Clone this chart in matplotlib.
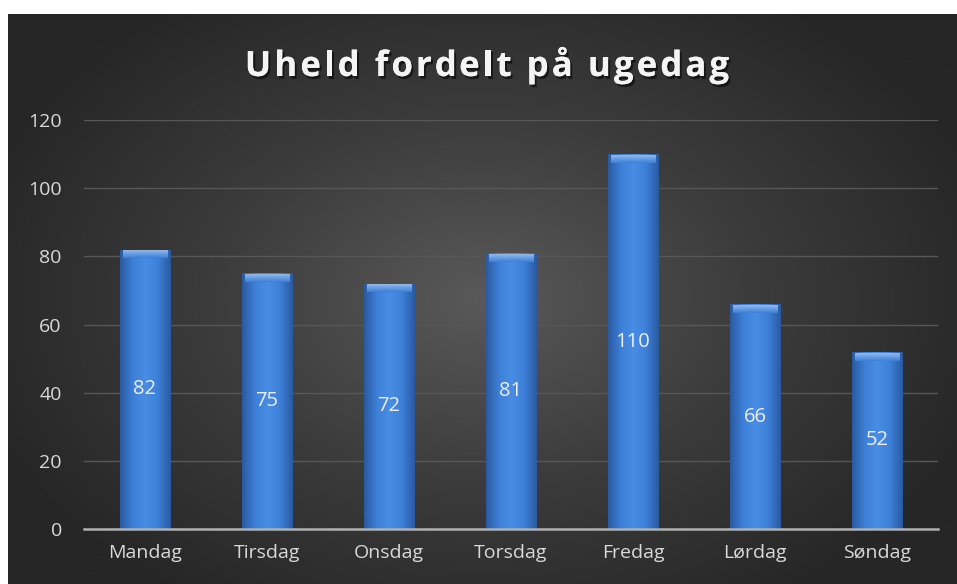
import numpy as np
import matplotlib
matplotlib.use('Agg')
import matplotlib.pyplot as plt
import matplotlib.patheffects as pe
from matplotlib.colors import LinearSegmentedColormap

days = ['Mandag', 'Tirsdag', 'Onsdag', 'Torsdag', 'Fredag', 'Lørdag', 'Søndag']
accidents = [82, 75, 72, 81, 110, 66, 52]
yticks = [0, 20, 40, 60, 80, 100, 120]
title = 'Uheld fordelt på ugedag'

plt.rcParams['font.family'] = ['Open Sans', 'DejaVu Sans']

W, H = 957, 584
fig = plt.figure(figsize=(W / 100, H / 100), dpi=100)
fig.patch.set_facecolor('white')

# radial dark background
bg = fig.add_axes([8 / W, 0, (W - 8) / W, (H - 14) / H])
bg.set_axis_off()
gx, gy = np.meshgrid(np.linspace(0, 1, 400), np.linspace(0, 1, 250))
r = np.sqrt(((gx - 0.5) / 0.75) ** 2 + ((gy - 0.5) / 0.85) ** 2)
bgcmap = LinearSegmentedColormap.from_list('bg', ['#595959', '#3c3c3c', '#262626'])
bg.imshow(r, cmap=bgcmap, vmin=0, vmax=0.75, aspect='auto', extent=[0, 1, 0, 1])
bg.set_xlim(0, 1)
bg.set_ylim(0, 1)

ax = fig.add_axes([84 / W, (H - 529) / H, (938 - 84) / W, (529 - 120) / H])
ax.patch.set_alpha(0)
x = np.arange(len(days))
bars = ax.bar(x, accidents, width=0.41, color='#3b7bd0', zorder=3)

barcmap = LinearSegmentedColormap.from_list(
    'bar', ['#2a5aa0', '#3d80d8', '#4a8de4', '#3d80d8', '#2a5aa0'])
capcmap = LinearSegmentedColormap.from_list('cap', ['#3d80d8', '#8fb8ee'])
grad = np.linspace(0, 1, 64).reshape(1, -1)
for b in bars:
    x0, w, h = b.get_x(), b.get_width(), b.get_height()
    im = ax.imshow(grad, cmap=barcmap, aspect='auto', zorder=4,
                   extent=[x0, x0 + w, 0, h])
    im.set_clip_path(b)
    # top bevel highlight
    cap = np.linspace(1, 0, 20).reshape(-1, 1) * np.ones((1, 64))
    ax.imshow(cap, cmap=capcmap, aspect='auto', zorder=5,
              extent=[x0 + w * 0.06, x0 + w * 0.94, h - 2.6, h - 0.3])
    ax.text(x0 + w / 2, h / 2, str(int(h)), ha='center', va='center',
            color='#eeeeee', fontsize=14.5, zorder=6)

ax.set_xlim(-0.5, len(days) - 0.5)
ax.set_ylim(0, 120)
ax.set_yticks(yticks)
ax.set_xticks(x)
ax.set_xticklabels(days)
ax.tick_params(axis='both', length=0, colors='#d9d9d9', labelsize=14)
ax.tick_params(axis='y', pad=16)
ax.tick_params(axis='x', pad=11)
ax.grid(axis='y', color='#575757', linewidth=1, zorder=0)
for s in ['top', 'right', 'left']:
    ax.spines[s].set_visible(False)
ax.spines['bottom'].set_color('#b0b0b0')
ax.spines['bottom'].set_linewidth(1.8)
ax.spines['bottom'].set_zorder(7)

# title with letter spacing, placed char by char
renderer = fig.canvas.get_renderer()
tkw = dict(color='#f4f4f4', fontsize=25, fontweight='bold', va='baseline', ha='left')
spacing = 3.1
def tw(s):
    if not s:
        return 0.0
    t = fig.text(0, 0, s.replace(' ', '\u00a0'), **tkw)
    wd = t.get_window_extent(renderer).width
    t.remove()
    return wd
total = tw(title) + spacing * (len(title) - 1)
xs = 487 - total / 2
shadow = [pe.withSimplePatchShadow(offset=(1.5, -2), shadow_rgbFace='black', alpha=0.55),
          pe.Normal()]
for i, ch in enumerate(title):
    if ch == ' ':
        continue
    px = xs + tw(title[:i]) + spacing * i
    fig.text(px / W, 1 - 76 / H, ch, path_effects=shadow, **tkw)

fig.savefig('out.png', dpi=100, facecolor=fig.get_facecolor())
